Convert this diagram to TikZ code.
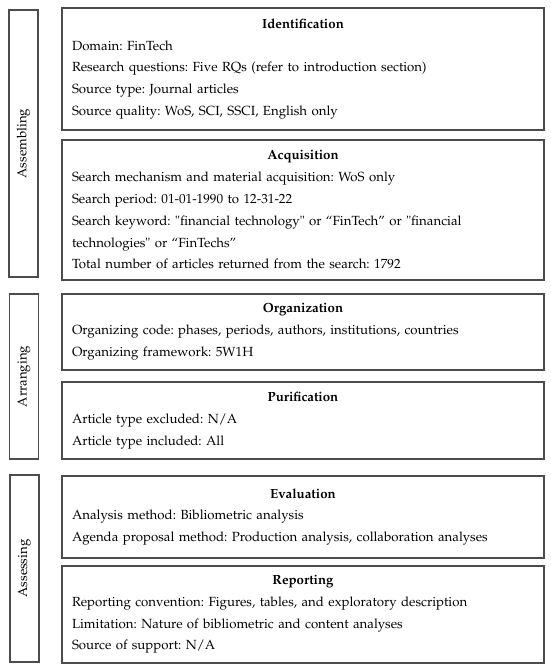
\documentclass[tikz,border=0pt]{standalone}
\usepackage[T1]{fontenc}
\usepackage{mathpazo}
\usepackage{xcolor}
\usepackage{tikz}
\usetikzlibrary{positioning}
\frenchspacing

\begin{document}
\begin{tikzpicture}[
      x=1pt, y=-1pt,
      font=\fontsize{13.25}{21.8}\selectfont,
      panel/.style={draw=black!70, line width=1.3pt, minimum width=482pt,
                    text width=462pt, inner xsep=10pt, inner ysep=2pt},
      phase/.style={draw=black!70, line width=1.3pt, rotate=90,
                    minimum height=29pt, inner sep=0pt},
    ]
    \useasboundingbox (0,0) rectangle (550,668);

    % phases (left column)
    \node[phase, minimum width=267pt] (assem) at (23.5,143.5) {Assembling};
    \node[phase, minimum width=165pt] (arran) at (24,376.5)   {Arranging};
    \node[phase, minimum width=187pt] (asses) at (24.5,568.5) {Assessing};

    % steps (right column)
    \node[panel, minimum height=122pt] (ident) at (303,69) {%
      {\centering\textbf{Identification}\par}
      Domain: FinTech\\
      Research questions: Five RQs (refer to introduction section)\\
      Source type: Journal articles\\
      Source quality: WoS, SCI, SSCI, English only};
    \node[panel, minimum height=140pt] (acqui) at (303,210) {%
      {\centering\textbf{Acquisition}\par}
      Search mechanism and material acquisition: WoS only\\
      Search period: 01-01-1990 to 12-31-22\\
      Search keyword: \textquotedbl financial technology\textquotedbl{} or ``FinTech'' or \textquotedbl financial\\
      technologies\textquotedbl{} or ``FinTechs''\\
      Total number of articles returned from the search: 1792};
    \node[panel, minimum height=76pt] (organ) at (303,332) {%
      {\centering\textbf{Organization}\par}
      Organizing code: phases, periods, authors, institutions, countries\\
      Organizing framework: 5W1H};
    \node[panel, minimum height=77pt] (purif) at (303,420.5) {%
      {\centering\textbf{Purification}\par}
      Article type excluded: N/A\\
      Article type included: All};
    \node[panel, minimum height=82pt] (evalu) at (303,517) {%
      {\centering\textbf{Evaluation}\par}
      Analysis method: Bibliometric analysis\\
      Agenda proposal method: Production analysis, collaboration analyses};
    \node[panel, minimum height=97pt] (repor) at (303,614.5) {%
      {\centering\textbf{Reporting}\par}
      Reporting convention: Figures, tables, and exploratory description\\
      Limitation: Nature of bibliometric and content analyses\\
      Source of support: N/A};
  \end{tikzpicture}
\end{document}
